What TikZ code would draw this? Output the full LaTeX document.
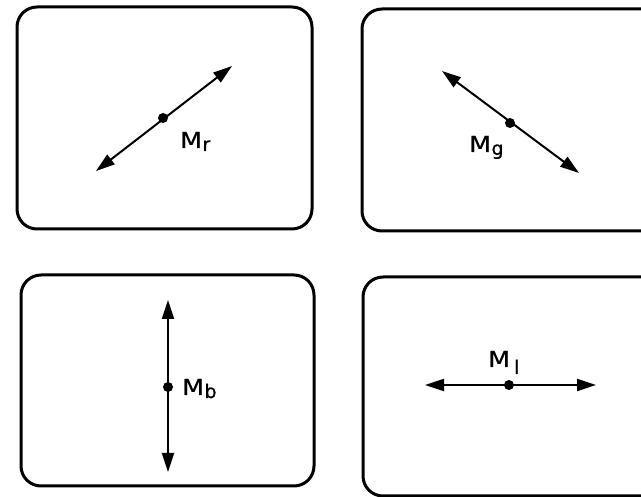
\documentclass[tikz,border=0pt]{standalone}
\usepackage{fontspec}
\setmainfont[FakeBold=0.6]{DejaVu Sans}
\usetikzlibrary{arrows.meta}
\newcommand{\Mlab}[3][0.5pt]{\scalebox{1.15}[1]{M}\kern#1\raisebox{#2}{\fontsize{19}{19}\selectfont #3}}
\begin{document}
\begin{tikzpicture}[x=1pt,y=-1pt,
  frame/.style={draw,line width=3pt,rounded corners=20pt},
  vec/.style={line width=2pt,{Triangle[length=19pt,width=12pt]}-{Triangle[length=19pt,width=12pt]}},
  mid/.style={circle,fill,inner sep=0pt,minimum size=10pt},
  lbl/.style={font=\fontsize{22}{24}\selectfont,inner sep=0pt,anchor=base west}]
\useasboundingbox (0,0) rectangle (641,497);
\clip (0,0) rectangle (641,497);
\fill[white] (0,0) rectangle (641,497);
% frames
\draw[frame] (17,7) rectangle (312,229);
\draw[frame] (362,9) rectangle (670,231);
\draw[frame] (21,275) rectangle (314,486);
\draw[frame] (363,277) rectangle (670,496);
% box 1
\coordinate (r1) at (96,171);
\coordinate (r2) at (232,66);
\node[mid] (mr) at (163,118) {};
\draw[vec] (r1) -- (r2);
\node[lbl] (lr) at (180,148) {\Mlab{-3pt}{r}};
% box 2
\coordinate (g1) at (442,71);
\coordinate (g2) at (579,173);
\node[mid] (mg) at (510,123) {};
\draw[vec] (g1) -- (g2);
\node[lbl] (lg) at (469,152) {\Mlab{-3pt}{g}};
% box 3
\coordinate (b1) at (168,300);
\coordinate (b2) at (168,472);
\node[mid] (mb) at (168,387) {};
\draw[vec] (b1) -- (b2);
\node[lbl] (lb) at (182,395) {\Mlab{-3pt}{b}};
% box 4
\coordinate (l1) at (425,385);
\coordinate (l2) at (596,385);
\node[mid] (ml) at (509,385) {};
\draw[vec] (l1) -- (l2);
\node[lbl] (ll) at (488,367) {\Mlab[4pt]{-7pt}{l}};
\end{tikzpicture}
\end{document}
